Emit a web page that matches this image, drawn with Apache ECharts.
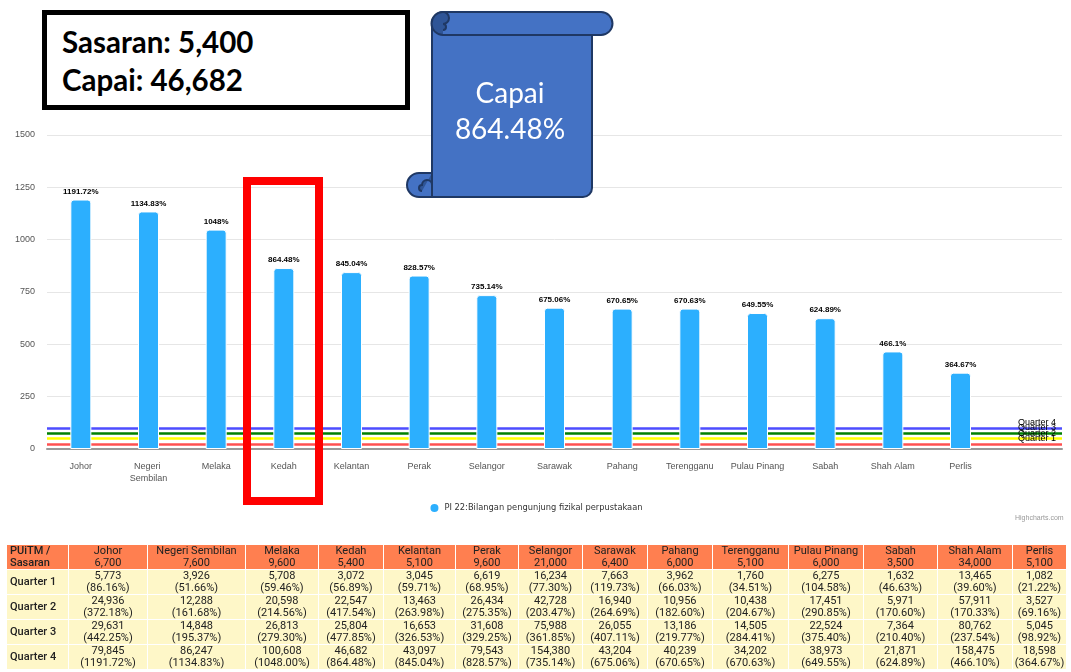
<!DOCTYPE html>
<html>
<head>
<meta charset="utf-8">
<script src="https://cdn.jsdelivr.net/npm/echarts@6/dist/echarts.min.js"></script>
<style>
  html, body { margin: 0; padding: 0; background: #fff; }
  #wrap { position: relative; width: 1071px; height: 672px; overflow: hidden; }
  #chart { position: absolute; left: 0; top: 0; width: 1071px; height: 672px; }
  #infoBox {
    position: absolute; left: 42px; top: 10px; width: 358px; height: 90px;
    border: 5px solid #000; background: #fff;
    font-family: Lato, "Open Sans", sans-serif; font-weight: bold; font-size: 29.5px; color: #000;
  }
  #infoBox div { position: absolute; left: 15px; line-height: 34px; }
  #scroll { position: absolute; left: 400px; top: 4px; }
  #tbl {
    position: absolute; left: 6px; top: 544px; border-collapse: collapse; table-layout: fixed;
    font-family: Roboto, sans-serif; font-size: 11px; color: #222;
  }
  #tbl td { border: 1.5px solid #fff; text-align: center; padding: 0; line-height: 12px; }
  #tbl tr.head td { background: #ff7f50; height: 23px; }
  #tbl tr.body td { background: #fef7c8; height: 24px; }
  #tbl td.first { text-align: left; padding-left: 3px; font-weight: 500; }
</style>
</head>
<body>
<div id="wrap">
  <div id="chart"></div>
  <div id="infoBox">
    <div style="top:10px">Sasaran: 5,400</div>
    <div style="top:48px">Capai: 46,682</div>
  </div>
  <svg id="scroll" width="220" height="200" viewBox="400 4 220 200">
    <path d="M443 12 H601 A11.5 11.5 0 0 1 601 35 H592 V188 A9 9 0 0 1 583 197 H419 A12 12 0 0 1 419 173 H432 V23.5 A11.5 11.5 0 0 1 443 12 Z"
          fill="#4472c4" stroke="#1f3864" stroke-width="2"/>
    <path d="M443 35 A11.5 11.5 0 0 1 443 12 A6 6 0 0 1 443 24 A3 3 0 0 1 443 30" fill="#2f5597" stroke="#1f3864" stroke-width="2"/>
    <line x1="443" y1="35" x2="592" y2="35" stroke="#1f3864" stroke-width="2"/>
    <path d="M432 173 V185 A5 5 0 0 0 422 185 A3 3 0 0 0 422 191" fill="#2f5597" stroke="#1f3864" stroke-width="2"/>
    <line x1="432" y1="185" x2="432" y2="197" stroke="#1f3864" stroke-width="2"/>
    <text x="510" y="103" text-anchor="middle" fill="#fff" font-family="Lato, 'Open Sans', sans-serif" font-size="28">Capai</text>
    <text x="510" y="139" text-anchor="middle" fill="#fff" font-family="Lato, 'Open Sans', sans-serif" font-size="28">864.48%</text>
  </svg>
  <table id="tbl"></table>
</div>
<script>
const categories = ['Johor', 'Negeri Sembilan', 'Melaka', 'Kedah', 'Kelantan', 'Perak', 'Selangor', 'Sarawak', 'Pahang', 'Terengganu', 'Pulau Pinang', 'Sabah', 'Shah Alam', 'Perlis'];
const achievedPct = [1191.72, 1134.83, 1048, 864.48, 845.04, 828.57, 735.14, 675.06, 670.65, 670.63, 649.55, 624.89, 466.1, 364.67];

const quarterNames = ['Quarter 1', 'Quarter 2', 'Quarter 3', 'Quarter 4'];
const quarterLevels = [25, 50, 75, 100];
const quarterColors = ['#ff5050', '#ffff00', '#008000', '#4d4dff'];

const yTicks = [0, 250, 500, 750, 1000, 1250, 1500];

// table data
const targets = [6700, 7600, 9600, 5400, 5100, 9600, 21000, 6400, 6000, 5100, 6000, 3500, 34000, 5100];
const q1 = [5773, 3926, 5708, 3072, 3045, 6619, 16234, 7663, 3962, 1760, 6275, 1632, 13465, 1082];
const q1Pct = ['86.16', '51.66', '59.46', '56.89', '59.71', '68.95', '77.30', '119.73', '66.03', '34.51', '104.58', '46.63', '39.60', '21.22'];
const q2 = [24936, 12288, 20598, 22547, 13463, 26434, 42728, 16940, 10956, 10438, 17451, 5971, 57911, 3527];
const q2Pct = ['372.18', '161.68', '214.56', '417.54', '263.98', '275.35', '203.47', '264.69', '182.60', '204.67', '290.85', '170.60', '170.33', '69.16'];
const q3 = [29631, 14848, 26813, 25804, 16653, 31608, 75988, 26055, 13186, 14505, 22524, 7364, 80762, 5045];
const q3Pct = ['442.25', '195.37', '279.30', '477.85', '326.53', '329.25', '361.85', '407.11', '219.77', '284.41', '375.40', '210.40', '237.54', '98.92'];
const q4 = [79845, 86247, 100608, 46682, 43097, 79543, 154380, 43204, 40239, 34202, 38973, 21871, 158475, 18598];
const q4Pct = ['1191.72', '1134.83', '1048.00', '864.48', '845.04', '828.57', '735.14', '675.06', '670.65', '670.63', '649.55', '624.89', '466.10', '364.67'];
const colWidths = [62, 79, 98, 73, 65, 72, 63, 64, 65, 65, 76, 75, 74, 75, 54];

const fmt = n => n.toLocaleString('en-US');

// build the table
(function buildTable() {
  const tbl = document.getElementById('tbl');
  let html = '<colgroup>' + colWidths.map(w => `<col style="width:${w}px">`).join('') + '</colgroup>';
  html += '<tr class="head"><td class="first">PUiTM /<br>Sasaran</td>' +
    categories.map((c, i) => `<td>${c}<br>${fmt(targets[i])}</td>`).join('') + '</tr>';
  const rows = [[q1, q1Pct], [q2, q2Pct], [q3, q3Pct], [q4, q4Pct]];
  rows.forEach((r, k) => {
    html += `<tr class="body"><td class="first">${quarterNames[k]}</td>` +
      categories.map((c, i) => `<td>${fmt(r[0][i])}<br>(${r[1][i]}%)</td>`).join('') + '</tr>';
  });
  tbl.innerHTML = html;
})();

const chart = echarts.init(document.getElementById('chart'));

const option = {
  animation: false,
  textStyle: { fontFamily: '"Liberation Sans", Arial, sans-serif' },
  grid: { left: 47, right: 9, top: 135, bottom: 223 },
  legend: {
    data: ['PI 22:Bilangan pengunjung fizikal perpustakaan'],
    top: 497, left: 'center',
    icon: 'circle', itemWidth: 10, itemHeight: 10, itemGap: 5,
    textStyle: { fontSize: 8.3, color: '#333', fontFamily: '"DejaVu Sans", sans-serif' }
  },
  xAxis: {
    type: 'category',
    // trailing empty slot leaves room for the plot line labels
    data: categories.concat(['']),
    axisLine: { lineStyle: { color: '#999', width: 2 } },
    axisTick: { show: false },
    axisLabel: { fontSize: 9, color: '#555', margin: 12, width: 64, overflow: 'break', lineHeight: 12, interval: 0 }
  },
  yAxis: {
    type: 'value', min: yTicks[0], max: yTicks[yTicks.length - 1], interval: 250,
    axisLabel: { fontSize: 9, color: '#555', margin: 12, formatter: v => String(v) },
    splitLine: { lineStyle: { color: '#e6e6e6' } }
  },
  series: [
    {
      name: 'quarters',
      type: 'line',
      data: [],
      z: 1,
      silent: true,
      markLine: {
        z: 1,
        symbol: 'none',
        silent: true,
        data: quarterLevels.map((v, i) => ({
          yAxis: v,
          name: quarterNames[i],
          lineStyle: { color: quarterColors[i], width: 2.5, type: 'solid' },
          label: {
            show: true, position: 'insideEndTop', formatter: quarterNames[i],
            color: '#000', fontSize: 9, distance: [6, 1]
          }
        }))
      }
    },
    {
      name: 'PI 22:Bilangan pengunjung fizikal perpustakaan',
      type: 'bar',
      z: 3,
      data: achievedPct,
      barWidth: 21,
      itemStyle: { color: '#2caffe', borderColor: '#fff', borderWidth: 1, borderRadius: [3, 3, 0, 0] },
      label: {
        show: true, position: 'top', distance: 4,
        formatter: '{c}%', fontSize: 8, fontWeight: 'bold', color: '#000',
        textBorderColor: '#fff', textBorderWidth: 2
      }
    }
  ],
  graphic: [
    {
      type: 'rect', z: 100,
      shape: { x: 247, y: 181, width: 72, height: 320 },
      style: { fill: 'none', stroke: '#ff0000', lineWidth: 8 }
    },
    {
      type: 'text', z: 100, left: 1015, top: 515,
      style: { text: 'Highcharts.com', fontSize: 7, fill: '#999' }
    }
  ]
};

chart.setOption(option);
</script>
</body>
</html>
